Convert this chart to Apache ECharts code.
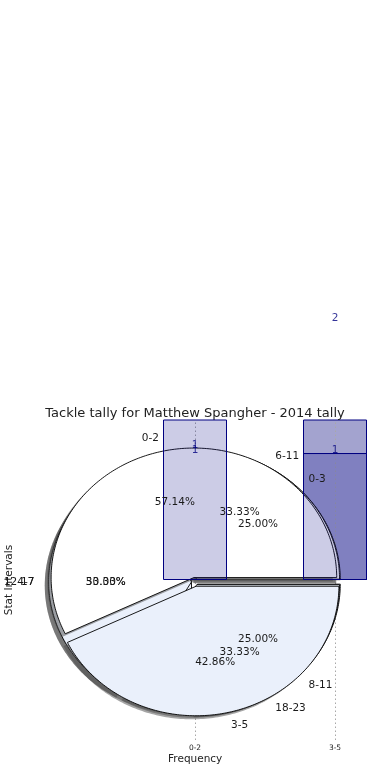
<!DOCTYPE html>
<html>
<head>
<meta charset="utf-8">
<script src="https://cdn.jsdelivr.net/npm/echarts@6/dist/echarts.min.js"></script>
<style>
  html, body { margin: 0; padding: 0; background: #ffffff; }
  #chart { width: 390px; height: 780px; }
</style>
</head>
<body>
<div id="chart"></div>
<script>
// ---- data ----
const categories = ['0-2', '3-5'];
const frontCounts = [2, 1];
const backTotalCounts = [0, 2];
const backLowerCounts = [0, 1];
const valueLabelsLow = [1, 1];
const valueLabelsHigh = [1, 2];

const pieALabels = ['0-2', '3-5'];
const pieAValues = [4, 3];
const pieBLabels = ['6-11', '12-17', '18-23'];
const pieBValues = [1, 1, 1];
const pieCLabels = ['0-3', '4-7', '8-11'];
const pieCValues = [1, 2, 1];

const titleText = 'Tackle tally for Matthew Spangher - 2014 tally';

// ---- style ----
const pieLabelsAll = [pieALabels, pieBLabels, pieCLabels];
const pieValuesAll = [pieAValues, pieBValues, pieCValues];
const PIE_CENTER = [0, -0.015];
const PIE_R = 1.02;
const EXPLODE = [[0.035, 0.035], [0.025, 0.025, 0.025], [0.025, 0.025, 0.025]];
const PIE_COLORS = [['#ffffff', '#eaf0fb'], ['#ffffff', '#eaf0fb', '#eaf0fb'], ['#ffffff', '#eaf0fb', '#eaf0fb']];
const SHADOW = [-0.028, -0.028];
const TXT = '#1a1a1a';
const NAVY = '#000080';

function sliceGeom(p, s) {
  const vals = pieValuesAll[p];
  const total = vals.reduce((a, b) => a + b, 0);
  let before = 0;
  for (let i = 0; i < s; i++) before += vals[i];
  const a1 = before / total * Math.PI * 2;
  const a2 = (before + vals[s]) / total * Math.PI * 2;
  const mid = (a1 + a2) / 2;
  const e = EXPLODE[p][s];
  return {
    a1, a2, mid, total,
    cx: PIE_CENTER[0] + e * Math.cos(mid),
    cy: PIE_CENTER[1] + e * Math.sin(mid)
  };
}

const drawOrder = [2, 1, 0];
const pieRows = [];
drawOrder.forEach(p => {
  pieValuesAll[p].forEach((v, s) => pieRows.push([p, s, 1]));
  pieValuesAll[p].forEach((v, s) => pieRows.push([p, s, 0]));
});
const labelRows = [];
drawOrder.forEach(p => {
  pieValuesAll[p].forEach((v, s) => { labelRows.push([p, s, 0]); labelRows.push([p, s, 1]); });
});

function renderSlice(params, api) {
  const p = api.value(0), s = api.value(1), isShadow = api.value(2);
  const g = sliceGeom(p, s);
  let cx = g.cx, cy = g.cy;
  if (isShadow) { cx += SHADOW[0]; cy += SHADOW[1]; }
  const n = Math.max(2, Math.ceil((g.a2 - g.a1) / (Math.PI / 180)));
  const pts = [api.coord([cx, cy])];
  for (let k = 0; k <= n; k++) {
    const t = g.a1 + (g.a2 - g.a1) * k / n;
    pts.push(api.coord([cx + PIE_R * Math.cos(t), cy + PIE_R * Math.sin(t)]));
  }
  return {
    type: 'polygon',
    shape: { points: pts },
    style: isShadow
      ? { fill: 'rgba(75,75,75,0.5)', stroke: null }
      : { fill: PIE_COLORS[p][s], stroke: '#000000', lineWidth: 0.9 }
  };
}

function renderLabel(params, api) {
  const p = api.value(0), s = api.value(1), kind = api.value(2);
  const g = sliceGeom(p, s);
  if (kind === 0) {
    const xt = g.cx + 1.1 * PIE_R * Math.cos(g.mid);
    const yt = g.cy + 1.1 * PIE_R * Math.sin(g.mid);
    const pt = api.coord([xt, yt]);
    return {
      type: 'text', x: pt[0], y: pt[1],
      style: { text: pieLabelsAll[p][s], fill: TXT, font: '10.5px "DejaVu Sans"',
               align: xt > 0 ? 'left' : 'right', verticalAlign: 'middle' }
    };
  }
  const xp = g.cx + 0.6 * PIE_R * Math.cos(g.mid);
  const yp = g.cy + 0.6 * PIE_R * Math.sin(g.mid);
  const pt = api.coord([xp, yp]);
  const pct = (pieValuesAll[p][s] / g.total * 100).toFixed(2) + '%';
  return {
    type: 'text', x: pt[0], y: pt[1],
    style: { text: pct, fill: TXT, font: '10.5px "DejaVu Sans"', align: 'center', verticalAlign: 'middle' }
  };
}

const toBar = arr => arr.map((v, i) => [i, v ? v : '-']);
const barBorder = { borderColor: NAVY, borderWidth: 1 };

const chart = echarts.init(document.getElementById('chart'), null, { renderer: 'canvas' });
chart.setOption({
  animation: false,
  backgroundColor: '#ffffff',
  textStyle: { fontFamily: 'DejaVu Sans' },
  title: {
    text: titleText, left: 'center', top: 402,
    textStyle: { fontSize: 13, fontWeight: 'normal', color: '#222222', fontFamily: 'DejaVu Sans' }
  },
  grid: { left: 27, right: 18.6, top: 420, bottom: 40, containLabel: false, outerBoundsMode: 'none' },
  xAxis: {
    type: 'value', min: -1.2, max: 1.26,
    name: 'Frequency', nameLocation: 'middle', nameGap: 14,
    nameTextStyle: { fontSize: 10.5, color: '#222222', padding: [0, 8, 0, 0] },
    axisLine: { show: false }, axisTick: { show: false }, splitLine: { show: false },
    axisLabel: {
      fontSize: 7.5, color: '#222222', margin: 4,
      customValues: categories.map((c, i) => i),
      formatter: v => {
        const r = Math.round(v);
        return (Math.abs(v - r) < 1e-6 && r >= 0 && r < categories.length) ? categories[r] : '';
      }
    }
  },
  yAxis: {
    type: 'value', min: -1.26, max: 1.26,
    name: 'Stat Intervals', nameLocation: 'middle', nameGap: 12, nameRotate: 90,
    nameTextStyle: { fontSize: 10.5, color: '#222222' },
    axisLine: { show: false }, axisTick: { show: false }, splitLine: { show: false },
    axisLabel: { show: false }
  },
  series: [
    {
      type: 'bar', name: 'backTotal', zlevel: 0, z: 1, barWidth: 64, barGap: '-100%',
      data: toBar(backTotalCounts),
      itemStyle: Object.assign({ color: '#a3a3cf' }, barBorder)
    },
    {
      type: 'bar', name: 'backLower', zlevel: 0, z: 2, barWidth: 64, barGap: '-100%',
      data: toBar(backLowerCounts),
      itemStyle: Object.assign({ color: '#a0a0d0' }, barBorder)
    },
    {
      type: 'custom', name: 'pies', zlevel: 1, z: 2, clip: false,
      renderItem: renderSlice,
      data: pieRows,
      silent: true
    },
    {
      type: 'bar', name: 'front', zlevel: 2, z: 3, barWidth: 64, barGap: '-100%',
      data: toBar(frontCounts),
      itemStyle: Object.assign({ color: 'rgba(0,0,128,0.2)' }, barBorder),
      markLine: {
        silent: true, symbol: 'none',
        label: { show: false },
        lineStyle: { type: [1.5, 2.5], color: '#a8a8a8', width: 1 },
        data: categories.map((c, i) => ({ xAxis: i }))
      }
    },
    {
      type: 'custom', name: 'pieLabels', zlevel: 3, z: 6, clip: false,
      renderItem: renderLabel,
      data: labelRows,
      silent: true
    },
    {
      type: 'scatter', name: 'labelsLow', zlevel: 3, z: 7, clip: false, symbolSize: 1,
      itemStyle: { color: 'rgba(0,0,0,0)' },
      data: valueLabelsLow.map((v, i) => [i, v]),
      label: { show: true, position: 'inside', offset: [0, -3], color: NAVY, fontSize: 10.5,
               formatter: p => String(p.value[1]) }
    },
    {
      type: 'scatter', name: 'labelsHigh', zlevel: 3, z: 7, clip: false, symbolSize: 1,
      itemStyle: { color: 'rgba(0,0,0,0)' },
      data: valueLabelsHigh.map((v, i) => [i, v]),
      label: { show: true, position: 'inside', offset: [0, -8], color: NAVY, fontSize: 10.5,
               formatter: p => String(p.value[1]) }
    }
  ]
});
</script>
</body>
</html>
